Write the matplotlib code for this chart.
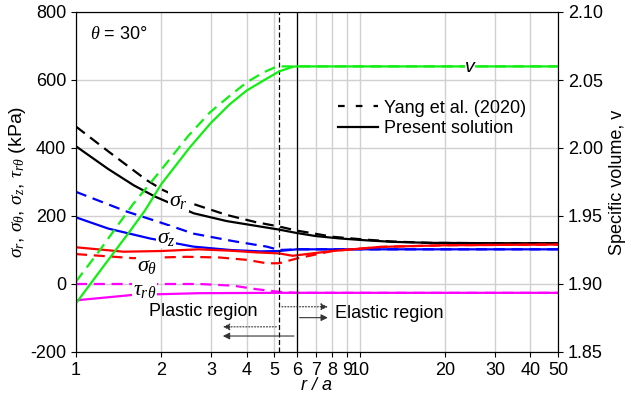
import numpy as np
import matplotlib.pyplot as plt
from matplotlib.ticker import FixedLocator, NullLocator

plt.rcParams['font.family'] = ['Liberation Sans', 'DejaVu Sans']
plt.rcParams['mathtext.fontset'] = 'custom'
plt.rcParams['mathtext.it'] = 'Liberation Serif:italic'
plt.rcParams['mathtext.rm'] = 'Liberation Serif'
plt.rcParams['font.size'] = 13
plt.rcParams['axes.unicode_minus'] = False

# sigma_r
r_sr = [1, 1.3, 1.6, 1.9, 2.6, 3.4, 4.1, 5.2, 6, 7, 8.5, 10.3, 13, 17.7, 30, 50]
sr = [405, 338, 290, 257, 208, 185, 174, 160, 150, 141, 134, 129, 124, 121, 120, 120]
r_sr_y = [1, 1.3, 1.77, 2.03, 2.6, 3.4, 4.3, 5.2, 6, 6.86, 8, 10.3, 13, 17.7, 30, 50]
sr_y = [463, 390, 306, 276, 235, 203, 182, 169, 157, 149, 139, 131, 125, 121, 120, 120]

# sigma_z
r_sz = [1, 1.3, 1.82, 2.59, 3.5, 4.45, 5.2, 6, 10, 50]
sz = [196, 163, 134, 110, 100, 96, 97, 102, 102, 102]
r_sz_y = [1, 1.51, 2.0, 2.6, 3.59, 4.7, 5.2, 6, 50]
sz_y = [271, 213, 180, 148, 126, 110, 100, 102, 102]

# sigma_theta
r_st = [1, 1.47, 2.0, 2.7, 3.5, 4.3, 5.2, 5.8, 8, 11.8, 20, 50]
st = [108, 95, 97, 102, 98, 93, 90, 83, 97, 109, 114, 116]
r_st_y = [1, 1.59, 2.45, 3.2, 4.0, 4.7, 5.2, 6, 8, 11.8, 20, 50]
st_y = [88, 76, 80, 78, 71, 61, 61, 75, 97, 109, 114, 116]

# tau_r_theta
r_tr = [1, 1.59, 2.73, 5, 10, 50]
tr = [-48, -32, -27, -26, -26, -26]
r_tr_y = [1, 2.73, 3.59, 4.3, 5.2, 6, 10, 50]
tr_y = [0, 0, -5, -15, -23, -26, -26, -26]

# specific volume v
r_v = [1, 1.25, 1.53, 1.75, 2.0, 2.52, 3.0, 3.49, 4.0, 4.57, 5.2, 5.83, 6, 50]
v = [1.8858, 1.913, 1.9373, 1.954, 1.9735, 2.0005, 2.0188, 2.0323, 2.0423,
     2.0495, 2.0563, 2.0598, 2.06, 2.06]
r_v_y = [1, 1.215, 1.59, 2.03, 2.49, 2.97, 3.49, 4.0, 4.57, 5.09, 5.2, 50]
v_y = [1.9018, 1.925, 1.9588, 1.9858, 2.009, 2.0263, 2.0385, 2.0483, 2.0555,
       2.0598, 2.06, 2.06]

r_plastic_yang = 5.2
r_plastic = 6.0

xticks = [1, 2, 3, 4, 5, 6, 7, 8, 9, 10, 20, 30, 40, 50]

fig = plt.figure(figsize=(6.28, 4.0), dpi=100)
ax = fig.add_axes([0.121, 0.12, 0.7675, 0.85])

ax.set_xscale('log')
ax.set_xlim(1, 50)
ax.set_ylim(-200, 800)
ax.xaxis.set_major_locator(FixedLocator(xticks))
ax.xaxis.set_minor_locator(NullLocator())
ax.set_xticklabels([str(t) for t in xticks])
ax.set_yticks([-200, 0, 200, 400, 600, 800])
ax.grid(True, color='#d0d0d0', lw=1)
ax.set_axisbelow(True)

lw = 1.6
dash = (0, (5, 3))
ax.plot(r_sr, sr, color='black', lw=lw)
ax.plot(r_sr_y, sr_y, color='black', lw=lw, ls=dash)
ax.plot(r_sz, sz, color='blue', lw=lw)
ax.plot(r_sz_y, sz_y, color='blue', lw=lw, ls=dash)
ax.plot(r_st, st, color='red', lw=lw)
ax.plot(r_st_y, st_y, color='red', lw=lw, ls=dash)
ax.plot(r_tr, tr, color='magenta', lw=lw)
ax.plot(r_tr_y, tr_y, color='magenta', lw=lw, ls=dash)

ax.axvline(r_plastic_yang, color='black', lw=0.9, ls=(0, (4, 2)))
ax.axvline(r_plastic, color='black', lw=0.9)

# region arrows
arr = dict(arrowstyle='-|>', color='#333333', lw=0.8, mutation_scale=10)
ax.annotate('', xy=(7.9, -67), xytext=(r_plastic_yang, -67),
            arrowprops=dict(arr, ls=':'))
ax.annotate('', xy=(7.9, -99), xytext=(r_plastic, -99), arrowprops=arr)
ax.annotate('', xy=(3.22, -126), xytext=(r_plastic_yang, -126),
            arrowprops=dict(arr, ls=':'))
ax.annotate('', xy=(3.22, -153), xytext=(r_plastic, -153), arrowprops=arr)
ax.text(2.8, -80, 'Plastic region', ha='center', va='center', fontsize=13)
ax.text(8.2, -88, 'Elastic region', ha='left', va='center', fontsize=13)

box = dict(facecolor='white', edgecolor='none', pad=0.5)
ax.text(2.3, 246, r'$\sigma_r$', ha='center', va='center', fontsize=16, bbox=box)
ax.text(2.08, 138, r'$\sigma_z$', ha='center', va='center', fontsize=16, bbox=box)
ax.text(1.78, 55, r'$\sigma_\theta$', ha='center', va='center', fontsize=16, bbox=box)
ax.text(1.74, -16, r'$\tau_{r\theta}$', ha='center', va='center', fontsize=16, bbox=box)
ax.text(1.12, 735, r'$\theta$ = 30°', ha='left', va='center', fontsize=13)

ax.set_xlabel('r / a', style='italic', labelpad=-1)
ax.set_ylabel(r'$\sigma_r$, $\sigma_\theta$, $\sigma_z$, $\tau_{r\theta}$ (kPa)',
              fontsize=14)
ax.yaxis.set_label_coords(-0.1, 0.5)

ax2 = ax.twinx()
ax2.set_ylim(1.85, 2.10)
ax2.set_yticks([1.85, 1.90, 1.95, 2.00, 2.05, 2.10])
ax2.set_yticklabels(['1.85', '1.90', '1.95', '2.00', '2.05', '2.10'])
ax2.plot(r_v, v, color='#11ee11', lw=lw)
ax2.plot(r_v_y, v_y, color='#11ee11', lw=lw, ls=dash)
ax2.text(24.5, 2.0595, 'v', style='italic', ha='center', va='center', fontsize=14,
         bbox=dict(facecolor='white', edgecolor='none', pad=0.3))
ax2.set_ylabel('Specific volume, v')
ax2.yaxis.set_label_coords(1.106, 0.5)

ax2.plot([], [], color='black', lw=lw, ls=(0, (3, 5)), label='Yang et al. (2020)')
ax2.plot([], [], color='black', lw=lw, label='Present solution')
ax2.legend(loc='upper left', bbox_to_anchor=(0.544, 0.742), frameon=False,
           fontsize=13, handlelength=2.2, handletextpad=0.35,
           labelspacing=0.2, borderpad=0, borderaxespad=0)

fig.savefig('out.png', dpi=100)
